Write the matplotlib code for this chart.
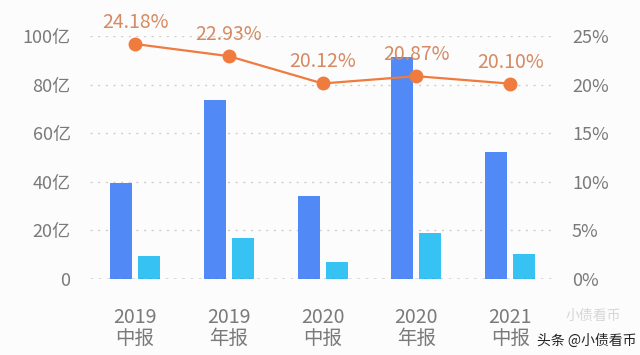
import numpy as np
import matplotlib.pyplot as plt

plt.rcParams['font.family'] = ['Noto Sans CJK SC', 'DejaVu Sans']
plt.rcParams['font.weight'] = 'light'

# data
periods = ['2019\n中报', '2019\n年报', '2020\n中报', '2020\n年报', '2021\n中报']
bar_dark = [39.5, 73.7, 34.2, 91.4, 52.3]     # 亿
bar_light = [9.5, 16.9, 7.0, 18.9, 10.3]      # 亿
ratio = [24.18, 22.93, 20.12, 20.87, 20.10]   # %
left_ticks = [0, 20, 40, 60, 80, 100]
left_labels = ['0', '20亿', '40亿', '60亿', '80亿', '100亿']
right_ticks = [0, 5, 10, 15, 20, 25]

dark_col = '#5189F6'
light_col = '#36C3F3'
line_col = '#EF7B3E'
label_col = '#D58A62'
tick_col = '#7A7A7A'

fig = plt.figure(figsize=(6.4, 3.55), dpi=100)
fig.patch.set_facecolor('#FCFCFC')
ax = fig.add_axes([0.1406, 0.214, 0.727, 0.6845])
ax.set_facecolor('none')

x = np.arange(len(periods))
w = 0.235
ax.bar(x - 0.149, bar_dark, w, color=dark_col, zorder=2)
ax.bar(x + 0.149, bar_light, w, color=light_col, zorder=2)

ax.set_xlim(-0.48, 4.48)
ax.set_ylim(0, 100)
ax.set_yticks(left_ticks)
ax.set_yticklabels(left_labels)
for yv in left_ticks[1:]:
    ax.axhline(yv, color='#CFCFCF', lw=1, ls=(0, (1.5, 4)), zorder=1)
ax.axhline(0, color='#555555', lw=1, ls=(0, (2, 4)), zorder=3)

ax.set_xticks(x)
ax.set_xticklabels(periods, linespacing=1.0)
ax.tick_params(axis='both', length=0, colors=tick_col, labelsize=13)
ax.tick_params(axis='x', pad=20, labelsize=14)
ax.tick_params(axis='y', pad=14)
for s in ax.spines.values():
    s.set_visible(False)

ax2 = ax.twinx()
ax2.set_ylim(0, 25)
ax2.set_yticks(right_ticks)
ax2.set_yticklabels([f'{t}%' for t in right_ticks])
ax2.tick_params(axis='y', length=0, colors=tick_col, labelsize=13, pad=12)
for s in ax2.spines.values():
    s.set_visible(False)
ax2.plot(x, ratio, color=line_col, lw=1.6, marker='o', ms=9, zorder=4)
for xi, r in zip(x, ratio):
    ax2.annotate(f'{r:.2f}%', (xi, r), xytext=(0, 8), textcoords='offset points',
                 ha='center', va='bottom', color=label_col, fontsize=14)

# watermark
fig.text(0.97, 0.11, '小债看币', color='#BBBBBB', fontsize=10, ha='right', va='center', alpha=0.6)
fig.text(0.995, 0.04, '头条 @小债看币', color='#222222', fontsize=10,
         fontweight='normal', ha='right', va='center')

fig.savefig('out.png', dpi=100, facecolor=fig.get_facecolor())
